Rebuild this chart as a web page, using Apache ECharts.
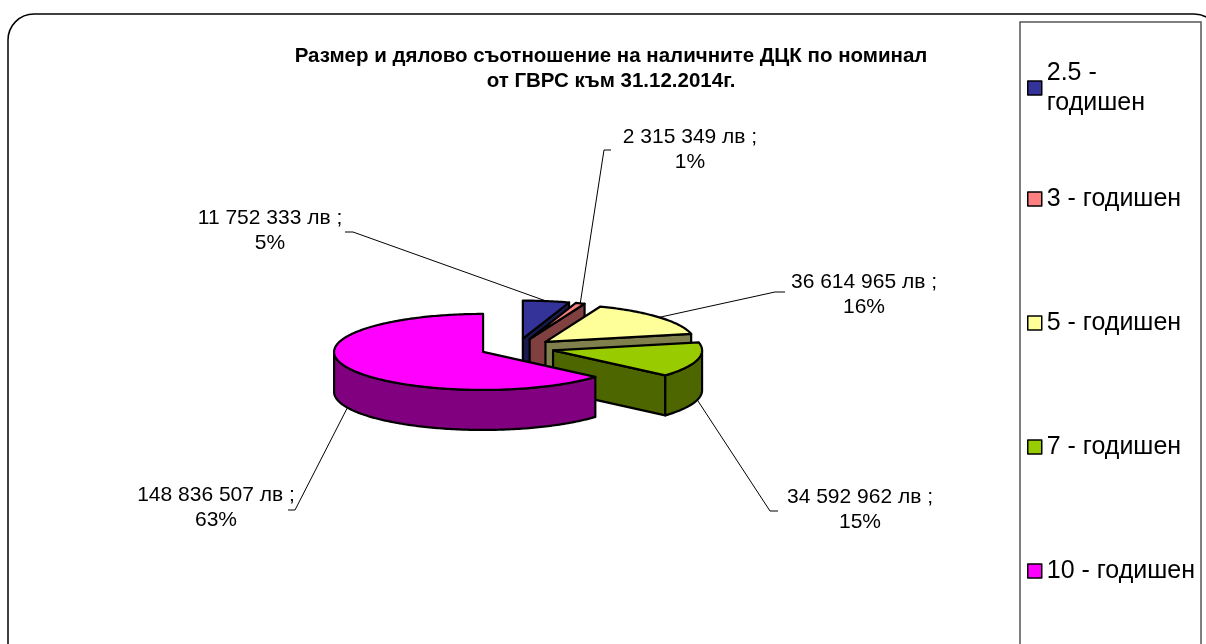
<!DOCTYPE html>
<html>
<head>
<meta charset="utf-8">
<title>ДЦК по номинал</title>
<script src="https://cdn.jsdelivr.net/npm/echarts@6/dist/echarts.min.js"></script>
<style>
    html, body { margin: 0; padding: 0; background: #fff; }
    #main { width: 1206px; height: 644px; }
</style>
</head>
<body>
<div id="main"></div>
<script>
// данни от графиката
var names = ['2.5 - годишен', '3 - годишен', '5 - годишен', '7 - годишен', '10 - годишен'];
var values = [11752333, 2315349, 36614965, 34592962, 148836507];
var percents = [5, 1, 16, 15, 63];
var topColors = ['#333399', '#FF8080', '#FFFF99', '#99CC00', '#FF00FF'];
var sideColors = ['#1A1A4D', '#804040', '#80804D', '#4D6600', '#800080'];

// разположение на 3D кръга и етикетите
var CX = 517, CY = 348, RX = 149, RY = 38, DEPTH = 40, EXPLODE = 0.25;
var labelCenter = [[270, 231], [690, 150], [864, 295], [860, 510], [216, 508]];
var elbow = [[353, 232], [604, 150], [775, 292], [770, 511], [295, 510]];
var tickEnd = [345, 611, 785, 778, 288];
var legendTop = [58, 184, 308, 432, 556];
var FONT = 'Liberation Sans, Arial, sans-serif';

var total = values.reduce(function(a, b) { return a + b; }, 0);
var rad = Math.PI / 180;

function fmt(v) {
    return String(v).replace(/\B(?=(\d{3})+(?!\d))/g, ' ');
}

function renderSlice(params, api) {
    var i = params.dataIndex;
    var before = 0;
    for (var k = 0; k < i; k++) before += values[k];
    var a0 = before / total * 360;
    var a1 = (before + api.value(0)) / total * 360;
    var mid = (a0 + a1) / 2;
    // изместване на парчето навън
    var ax = CX + EXPLODE * RX * Math.sin(mid * rad);
    var ay = CY - EXPLODE * RY * Math.cos(mid * rad);

    function rim(a, dz) {
        return [ax + RX * Math.sin(a * rad), ay - RY * Math.cos(a * rad) + dz];
    }
    function arc(from, to, dz) {
        var pts = [];
        var n = Math.max(2, Math.ceil(Math.abs(to - from)));
        for (var s = 0; s <= n; s++) pts.push(rim(from + (to - from) * s / n, dz));
        return pts;
    }
    var edge = { stroke: '#000', lineWidth: 2.2, lineJoin: 'round' };
    function st(fill) { return Object.assign({ fill: fill }, edge); }

    var children = [];
    // страничните стени
    function wall(a) {
        children.push({
            type: 'polygon', z2: 4,
            shape: { points: [[ax, ay], rim(a, 0), rim(a, DEPTH), [ax, ay + DEPTH]] },
            style: st(sideColors[i])
        });
    }
    if (a1 > 0 && a1 < 180) wall(a1);
    if (a0 > 180 && a0 < 360) wall(a0);
    var w0 = Math.max(a0, 90), w1 = Math.min(a1, 270);
    if (w1 > w0) {
        children.push({
            type: 'polygon', z2: 5,
            shape: { points: arc(w0, w1, 0).concat(arc(w1, w0, DEPTH)) },
            style: st(sideColors[i])
        });
    }
    // горна страна
    children.push({
        type: 'polygon', z2: 10,
        shape: { points: [[ax, ay]].concat(arc(a0, a1, 0)) },
        style: st(topColors[i])
    });
    // водеща линия и етикет
    var front = mid > 90 && mid < 270;
    var p0 = rim(mid, front ? DEPTH : 0);
    children.push({
        type: 'polyline', z2: 20,
        shape: { points: [p0, elbow[i], [tickEnd[i], elbow[i][1]]] },
        style: { stroke: '#000', lineWidth: 1, fill: null }
    });
    children.push({
        type: 'text', z2: 20,
        x: labelCenter[i][0], y: labelCenter[i][1],
        style: {
            text: fmt(api.value(0)) + ' лв ;\n' + percents[i] + '%',
            fill: '#000', fontSize: 21, fontFamily: FONT, lineHeight: 25,
            align: 'center', verticalAlign: 'middle'
        }
    });
    return { type: 'group', children: children };
}

var chart = echarts.init(document.getElementById('main'));

var option = {
    backgroundColor: '#fff',
    animation: false,
    title: {
        text: 'Размер и дялово съотношение на наличните ДЦК по номинал\nот ГВРС към 31.12.2014г.',
        left: 611,
        top: 44,
        textAlign: 'center',
        padding: 0,
        textStyle: {
            fontSize: 20.5, fontWeight: 'bold', fontFamily: FONT,
            color: '#000', lineHeight: 25
        }
    },
    legend: names.map(function(n, i) {
        return {
            data: [n],
            orient: 'vertical',
            left: 1027,
            top: legendTop[i],
            padding: 0,
            icon: 'rect',
            itemWidth: 14,
            itemHeight: 14,
            selectedMode: false,
            itemStyle: { borderColor: '#000', borderWidth: 1.5 },
            formatter: function(name) { return name.replace('2.5 - ', '2.5 -\n'); },
            textStyle: { fontSize: 25, fontFamily: FONT, color: '#000', lineHeight: 30 }
        };
    }),
    graphic: [{
        type: 'rect', silent: true,
        shape: { x: 8, y: 14, width: 1212, height: 660, r: 26 },
        style: { fill: null, stroke: '#000', lineWidth: 1.5 }
    }, {
        type: 'rect', silent: true,
        shape: { x: 1020, y: 22, width: 181, height: 640 },
        style: { fill: null, stroke: '#555', lineWidth: 1.5 }
    }],
    series: [{
        // само за легендата
        type: 'pie',
        silent: true,
        radius: 0,
        center: [-200, -200],
        label: { show: false },
        labelLine: { show: false },
        data: names.map(function(n, i) {
            return { name: n, value: values[i], itemStyle: { color: topColors[i] } };
        })
    }, {
        type: 'custom',
        coordinateSystem: 'none',
        silent: true,
        renderItem: renderSlice,
        data: values
    }]
};

chart.setOption(option);
</script>
</body>
</html>
